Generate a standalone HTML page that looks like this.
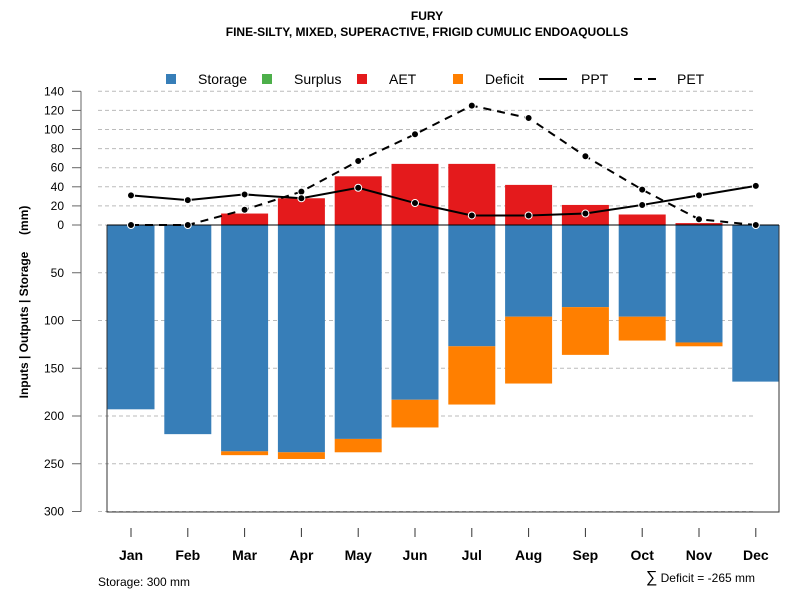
<!DOCTYPE html>
<html><head><meta charset="utf-8"><style>
body{margin:0;background:#fff}
svg text{font-family:"Liberation Sans",sans-serif}
</style></head><body>
<svg id="c" width="800" height="600" xmlns="http://www.w3.org/2000/svg">
<text x="427" y="20" font-size="12" font-weight="bold" text-anchor="middle">FURY</text>
<text x="427" y="36" font-size="12" font-weight="bold" text-anchor="middle">FINE-SILTY, MIXED, SUPERACTIVE, FRIGID CUMULIC ENDOAQUOLLS</text>
<g id="grid"></g>
<g id="bars"></g>
<g id="axes"></g>
<g id="lines"></g>
<g font-size="14">
<rect x="166" y="74" width="10" height="10" fill="#377eb8"/>
<text x="198" y="84">Storage</text>
<rect x="262" y="74" width="10" height="10" fill="#4daf4a"/>
<text x="294" y="84">Surplus</text>
<rect x="357" y="74" width="10" height="10" fill="#e41a1c"/>
<text x="389" y="84">AET</text>
<rect x="453" y="74" width="10" height="10" fill="#ff7f00"/>
<text x="485" y="84">Deficit</text>
<line x1="539" y1="79" x2="567" y2="79" stroke="#000" stroke-width="2"/>
<text x="581" y="84">PPT</text>
<line x1="634" y1="79" x2="660" y2="79" stroke="#000" stroke-width="2" stroke-dasharray="8,6"/>
<text x="677" y="84">PET</text>
</g>
<text transform="translate(28,302) rotate(-90)" font-size="12" font-weight="bold" text-anchor="middle" xml:space="preserve" style="white-space:pre">Inputs | Outputs | Storage     (mm)</text>
<text x="98" y="586" font-size="12">Storage: 300 mm</text>
<text x="755" y="582" font-size="12" text-anchor="end"><tspan font-size="16">∑</tspan> Deficit = -265 mm</text>
</svg>
<script>
const months=["Jan","Feb","Mar","Apr","May","Jun","Jul","Aug","Sep","Oct","Nov","Dec"];
const storage=[193,219,237,238,224,183,127,96,86,96,123,164];
const deficit=[0,0,4,7,14,29,61,70,50,25,4,0];
const aet=[0,0,12,28,51,64,64,42,21,11,2,0];
const ppt=[31,26,32,28,39,23,10,10,12,21,31,41];
const pet=[0,0,16,35,67,95,125,112,72,37,6,0];
const posTicks=[0,20,40,60,80,100,120,140];
const negTicks=[50,100,150,200,250,300];
const NS="http://www.w3.org/2000/svg";
const y0=225,k=0.955;
const yUp=v=>y0-v*k, yDn=v=>y0+v*k;
const xc=i=>131+i*56.8;
function mk(t,a,p){const e=document.createElementNS(NS,t);for(const q in a)e.setAttribute(q,a[q]);p.appendChild(e);return e;}
const grid=document.getElementById('grid'),bars=document.getElementById('bars'),axes=document.getElementById('axes'),lines=document.getElementById('lines');
posTicks.concat(negTicks.map(v=>-v)).forEach(v=>{
 const y=v>=0?yUp(v):yDn(-v);
 const g=mk('line',{x1:98,x2:756,y1:y,y2:y,stroke:'#bbb','stroke-dasharray':'4,3'},grid);
 
 
 const t=mk('line',{x1:72,x2:81,y1:y,y2:y,stroke:'#666'},axes);
 
 
 const l=mk('text',{x:64,y:y+4,'font-size':12,'text-anchor':'end'},axes);
 l.textContent=Math.abs(v);
 
 
});
const ax=mk('line',{x1:81,x2:81,y1:yUp(140),y2:yDn(300),stroke:'#666'},axes);


const bw=47;
months.forEach((m,i)=>{
 const x=xc(i)-bw/2;
 const s=mk('rect',{x:x,y:y0,width:bw,height:storage[i]*k,fill:'#377eb8'},bars);
 
 
 if(deficit[i]>0){const d=mk('rect',{x:x,y:yDn(storage[i]),width:bw,height:deficit[i]*k,fill:'#ff7f00'},bars);
 
 }
 if(aet[i]>0){const a=mk('rect',{x:x,y:yUp(aet[i]),width:bw,height:aet[i]*k,fill:'#e41a1c'},bars);
 
 }
 const t=mk('line',{x1:xc(i),x2:xc(i),y1:528,y2:537,stroke:'#333'},axes);
 
 
 const l=mk('text',{x:xc(i),y:560,'font-size':14,'font-weight':'bold','text-anchor':'middle'},axes);
 l.textContent=m;
 
 
});
const box=mk('path',{d:`M107 ${y0} V512 H779 V${y0}`,fill:'none',stroke:'#333'},axes);


const zl=mk('line',{x1:107,x2:779,y1:y0,y2:y0,stroke:'#000'},axes);


[[pet,'8,6','pet'],[ppt,null,'ppt']].forEach(([arr,da,nm])=>{
 const p=mk('polyline',{points:arr.map((v,i)=>xc(i)+','+yUp(v)).join(' '),fill:'none',stroke:'#000','stroke-width':2},lines);
 if(da)p.setAttribute('stroke-dasharray',da);
 
 
 arr.forEach((v,i)=>{const c=mk('circle',{cx:xc(i),cy:yUp(v),r:3.5,fill:'#000',stroke:'#fff','stroke-width':1},lines);
 
 });
});
</script>
</body></html>
